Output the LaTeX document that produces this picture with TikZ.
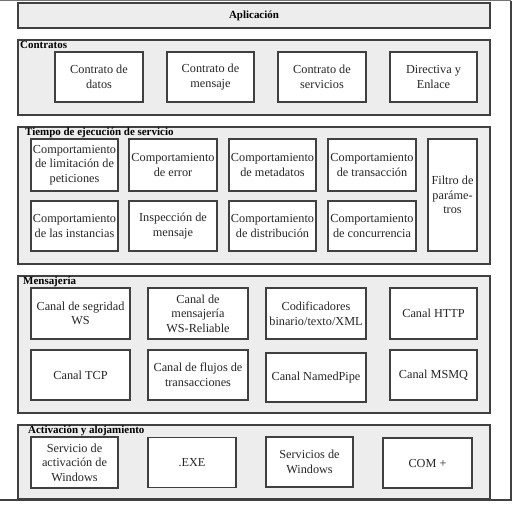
\documentclass[tikz,border=0pt]{standalone}
\usepackage{fontspec}
\setmainfont{Liberation Serif}
\begin{document}
\begin{tikzpicture}[x=1bp,y=-1bp,
  section/.style={draw=black!75, fill=black!7, line width=1.1bp},
  inbox/.style={draw=black!75, fill=white, line width=1.3bp, inner sep=0pt, align=center,
    font=\fontsize{12.3}{14.6}\selectfont, text=black!85},
  sectitle/.style={anchor=north west, inner sep=0pt, font=\fontsize{11}{12}\selectfont\bfseries},
  frameline/.style={draw=black!75, line width=1.1bp}]
\useasboundingbox (0,0) rectangle (513,510);
% outer frame
\draw[frameline, draw=black!55] (0,0.8) coordinate (f1) -- (511,0.8) coordinate (f2);
\draw[frameline] (f2) -- (511,500) coordinate (f3) -- (0,500) coordinate (f4);
% sections
\node[section, minimum width=472bp, minimum height=25bp, inner sep=0pt, font=\fontsize{11}{12}\selectfont\bfseries] (app) at (254,15.5) {Aplicación};
\node[section, minimum width=472bp, minimum height=75bp] (contr) at (254,77.5) {};
\node[section, minimum width=472bp, minimum height=137bp] (tiempo) at (254,195.5) {};
\node[section, minimum width=472bp, minimum height=137bp] (mens) at (254,344.5) {};
\node[section, minimum width=472bp, minimum height=74bp] (activ) at (254,462) {};
% titles
\node[sectitle] (tcontr) at (20,41) {Contratos};
\node[sectitle] (ttiempo) at (25,128) {Tiempo de ejecución de servicio};
\node[sectitle] (tmens) at (23,277) {Mensajería};
\node[sectitle] (tactiv) at (28,426) {Activación y alojamiento};
% Contratos
\node[inbox, minimum width=88bp, minimum height=50bp] (c1) at (99,77) {Contrato de\\datos};
\node[inbox, minimum width=87bp, minimum height=50bp] (c2) at (210.5,77) {Contrato de\\mensaje};
\node[inbox, minimum width=88bp, minimum height=50bp] (c3) at (322,77) {Contrato de\\servicios};
\node[inbox, minimum width=87bp, minimum height=50bp] (c4) at (433.5,77) {Directiva y\\Enlace};
% Tiempo de ejecución
\node[inbox, minimum width=87bp, minimum height=52bp] (t1) at (74.5,165) {Comportamiento\\de limitación de\\peticiones};
\node[inbox, minimum width=88bp, minimum height=52bp] (t2) at (173,165) {Comportamiento\\de error};
\node[inbox, minimum width=87bp, minimum height=52bp] (t3) at (272.5,165) {Comportamiento\\de metadatos};
\node[inbox, minimum width=88bp, minimum height=52bp] (t4) at (372,165) {Comportamiento\\de transacción};
\node[inbox, minimum width=87bp, minimum height=50bp] (t5) at (74.5,226) {Comportamiento\\de las instancias};
\node[inbox, minimum width=88bp, minimum height=50bp] (t6) at (173,226) {Inspección de\\mensaje};
\node[inbox, minimum width=87bp, minimum height=50bp] (t7) at (272.5,226) {Comportamiento\\de distribución};
\node[inbox, minimum width=88bp, minimum height=50bp] (t8) at (372,226) {Comportamiento\\de concurrencia};
\node[inbox, minimum width=49bp, minimum height=112bp] (t9) at (452.5,195) {Filtro de\\paráme-\\tros};
% Mensajería
\node[inbox, minimum width=99bp, minimum height=51bp] (m1) at (80.5,313.5) {Canal de segridad\\WS};
\node[inbox, minimum width=100bp, minimum height=51bp] (m2) at (198,313.5) {Canal de\\mensajería\\WS-Reliable};
\node[inbox, minimum width=100bp, minimum height=51bp] (m3) at (316,313.5) {Codificadores\\binario/texto/XML};
\node[inbox, minimum width=87bp, minimum height=51bp] (m4) at (433.5,313.5) {Canal HTTP};
\node[inbox, minimum width=99bp, minimum height=50bp] (m5) at (80.5,375) {Canal TCP};
\node[inbox, minimum width=100bp, minimum height=50bp] (m6) at (198,375) {Canal de flujos de\\transacciones};
\node[inbox, minimum width=100bp, minimum height=49bp] (m7) at (316,377.5) {Canal NamedPipe};
\node[inbox, minimum width=87bp, minimum height=50bp] (m8) at (433.5,375) {Canal MSMQ};
% Activación y alojamiento
\node[inbox, minimum width=87bp, minimum height=51bp] (a1) at (74.5,462.5) {Servicio de\\activación de\\Windows};
\node[inbox, minimum width=88bp, minimum height=50bp] (a2) at (192,462.5) {.EXE};
\node[inbox, minimum width=87bp, minimum height=50bp] (a3) at (309.5,462) {Servicios de\\Windows};
\node[inbox, minimum width=89bp, minimum height=50bp] (a4) at (427.5,463) {COM +};
\end{tikzpicture}
\end{document}
